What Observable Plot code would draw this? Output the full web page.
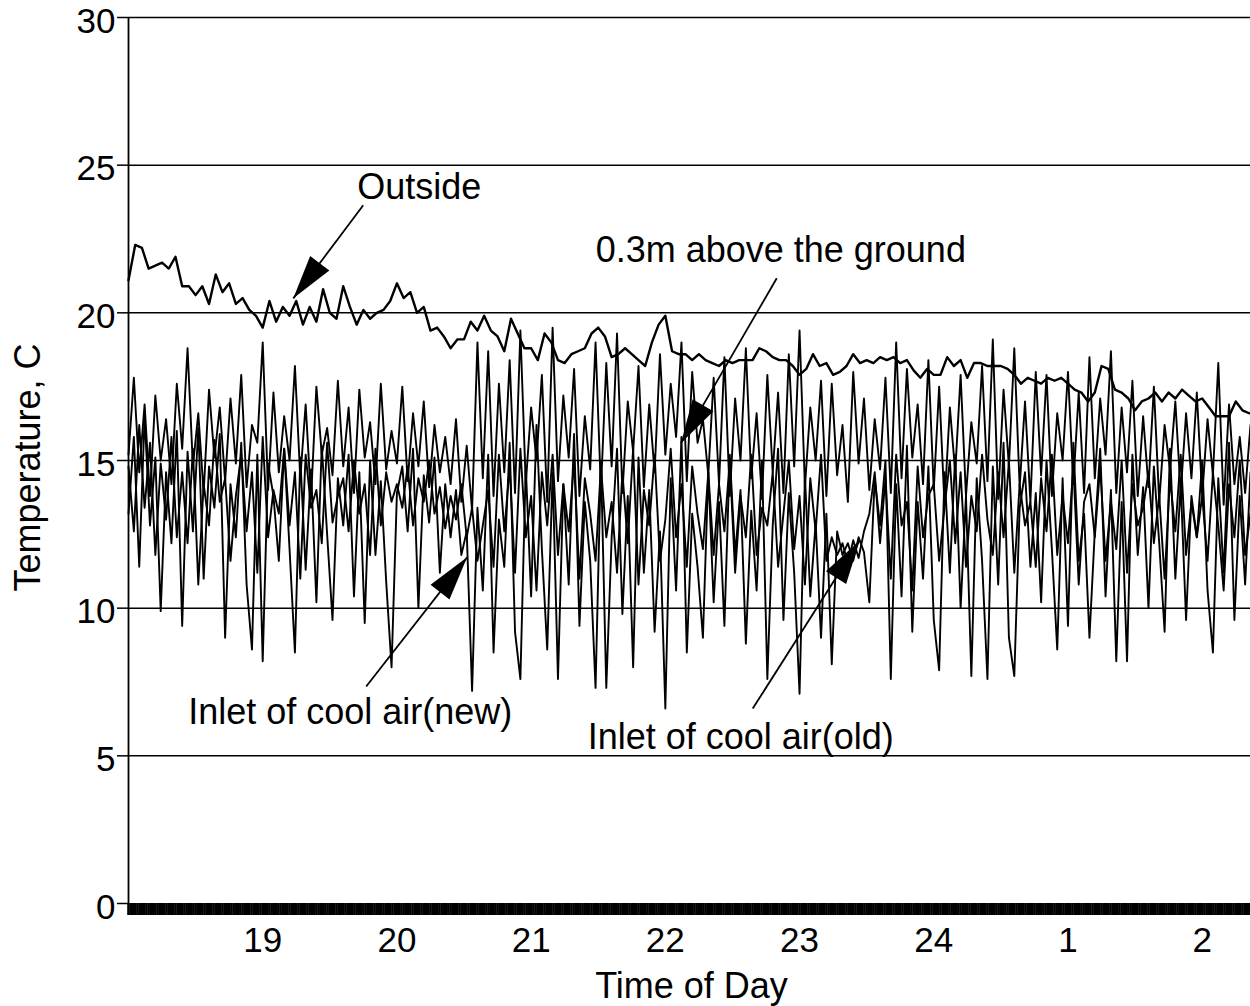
<!DOCTYPE html>
<html><head><meta charset="utf-8">
<script src="https://cdn.jsdelivr.net/npm/d3@7"></script>
<script src="https://cdn.jsdelivr.net/npm/@observablehq/plot@0.6"></script>
<style>body{margin:0;background:#fff}#chart svg{display:block}</style>
</head><body><div id="chart"></div>
<script>
// Outside temperature, sampled every 0.05 h from 18:00
const outsideTemp = [
21.1,22.3,22.2,21.5,21.6,21.7,21.5,21.9,20.9,20.9,
20.6,20.9,20.3,21.3,20.7,21.0,20.3,20.5,20.1,19.9,
19.5,20.4,19.7,20.2,19.9,20.4,19.6,20.2,19.7,20.8,
20.0,19.8,20.9,20.2,19.6,20.1,19.8,20.0,20.1,20.4,
21.0,20.5,20.7,20.0,20.2,19.4,19.5,19.2,18.8,19.1,
19.1,19.7,19.4,19.9,19.4,19.2,18.7,19.8,19.3,18.8,
18.8,18.4,19.3,19.0,18.4,18.3,18.6,18.7,18.8,19.3,
19.5,19.2,18.5,18.6,18.8,18.6,18.4,18.2,19.0,19.6,
19.9,18.7,18.6,18.6,18.4,18.6,18.4,18.3,18.2,18.4,
18.3,18.4,18.4,18.4,18.8,18.7,18.5,18.4,18.4,18.2,
17.9,18.1,18.6,18.2,18.3,17.9,18.0,18.2,18.6,18.3,
18.4,18.3,18.5,18.4,18.5,18.3,18.4,18.05,17.8,18.1,
17.9,17.9,18.5,18.2,18.4,17.8,18.3,18.3,18.2,18.2,
18.2,18.1,17.9,17.6,17.8,17.7,17.6,17.8,17.7,17.8,
17.6,17.4,17.3,17.0,17.3,18.2,18.1,17.4,17.3,17.1,
16.7,17.0,17.1,17.3,17.0,17.3,17.1,17.4,17.2,17.0,
17.1,16.8,16.5,16.5,16.5,17.0,16.7,16.6];

// 0.3 m above the ground, sampled every 0.04 h from 18:00
const groundTemp = [
15.2,17.8,14.6,16.9,13.8,17.2,15.0,16.4,14.2,17.6,
15.4,18.8,14.8,16.6,13.9,17.4,15.1,16.8,14.3,17.1,
14.9,17.9,14.1,16.2,15.6,19.0,14.0,17.3,14.6,16.5,
15.0,18.2,14.4,16.9,13.7,17.5,15.2,16.1,14.5,17.7,
14.8,16.8,13.9,17.4,15.1,16.3,14.2,17.6,14.7,16.0,
14.9,17.5,14.3,16.6,14.8,17.0,14.1,16.2,14.6,15.8,
14.2,16.4,13.6,15.5,13.3,19.0,14.4,18.7,13.8,17.6,
14.6,18.4,13.9,19.4,14.2,16.8,15.0,17.9,13.6,19.5,
14.3,17.2,15.1,18.1,13.8,16.5,14.7,19.0,14.0,18.3,
14.8,19.3,13.9,17.0,15.3,18.2,14.1,16.9,14.6,18.6,
15.2,17.6,15.8,19.0,14.3,18.0,15.6,16.4,14.5,17.8,
14.2,18.5,13.8,17.1,15.0,18.8,14.4,16.6,13.7,17.9,
14.6,17.3,13.9,18.6,14.8,19.4,14.1,16.8,15.0,17.7,
13.8,17.6,14.5,16.2,13.6,18.0,14.9,17.1,14.0,16.4,
14.7,17.8,13.9,19.0,14.4,18.1,15.1,16.9,14.2,18.4,
14.0,17.5,13.5,16.8,14.6,17.9,13.8,16.3,14.9,18.2,
14.3,19.1,13.7,17.4,14.8,18.8,14.1,17.0,13.6,18.0,
14.5,17.9,13.8,16.6,15.0,18.0,14.2,17.3,13.9,18.5,
14.4,17.1,15.2,18.7,13.9,16.8,14.6,17.7,13.8,16.5,
14.1,17.5,13.6,16.2,14.7,17.0,13.9,16.6,14.4,17.3,
13.8,16.4,14.5,18.3,13.5,16.9,14.2,15.8,13.9,16.2];

// Inlet of cool air (new), every 0.04 h
const inletNewTemp = [
13.2,15.8,11.4,16.5,12.8,15.1,9.9,14.6,12.2,16.0,
9.4,15.3,12.6,16.1,11.0,14.8,13.4,15.9,9.0,14.2,
12.4,15.6,10.8,8.6,15.2,8.2,14.9,13.8,11.6,15.4,
12.0,8.5,15.1,11.3,14.7,10.2,15.5,12.5,9.6,14.4,
12.8,15.2,10.4,14.6,9.5,15.0,11.8,14.3,10.9,8.0,
13.9,14.8,12.6,15.4,10.0,14.5,12.9,15.1,11.2,14.2,
12.4,14.0,11.8,12.6,7.2,13.4,10.6,15.2,8.5,13.0,
11.4,15.6,9.2,7.6,14.8,10.4,16.2,12.0,8.6,14.6,
7.6,14.2,10.8,15.9,9.4,13.6,11.6,7.3,15.0,7.3,
12.4,15.4,9.8,13.8,8.0,15.1,11.2,14.0,9.2,12.6,
6.6,14.4,10.6,15.8,8.5,13.2,11.4,9.0,14.6,10.2,
13.6,9.4,15.2,11.8,14.0,8.8,13.3,10.6,15.0,7.6,
12.8,15.4,9.6,13.9,11.2,7.1,14.5,10.4,12.9,9.0,
13.2,8.1,12.6,11.8,12.2,11.6,12.4,11.9,10.2,14.4,
12.8,15.0,7.6,14.2,10.4,15.5,9.2,13.6,11.0,14.8,
9.6,7.9,14.6,11.2,15.2,10.0,13.8,7.7,14.4,11.6,
7.6,14.8,10.8,15.6,9.0,7.7,13.4,14.6,11.4,13.9,
10.2,15.0,12.0,8.6,14.4,9.4,15.6,11.6,13.2,9.0,
12.6,15.4,10.4,14.0,8.2,13.6,8.2,15.2,11.8,14.1,
10.0,14.8,12.2,9.2,15.4,11.0,14.2,9.6,13.8,12.4,
15.0,10.6,8.5,14.4,11.2,15.6,9.6,13.8,10.8,14.6];

// Inlet of cool air (old), every 0.04 h
const inletOldTemp = [
14.8,12.6,16.2,13.4,15.6,11.8,14.9,13.0,15.8,12.4,
14.6,12.2,15.4,10.8,14.2,12.8,15.7,13.6,14.4,11.6,
13.8,15.2,12.6,14.6,11.2,15.8,12.4,14.0,13.2,15.4,
12.8,14.6,11.0,15.2,13.4,14.0,12.2,15.6,12.9,13.8,
14.4,12.6,15.0,13.2,14.2,11.8,15.4,12.8,14.6,13.6,
14.2,13.4,14.8,12.8,14.4,13.6,15.0,13.2,14.1,12.7,
13.8,13.0,14.2,12.4,13.4,11.6,12.8,14.0,11.4,15.2,
12.6,14.8,11.2,15.4,12.4,13.8,10.6,14.6,12.8,15.2,
11.8,14.2,12.6,15.0,11.0,14.4,13.2,11.6,14.8,12.4,
13.6,11.2,14.6,12.2,15.4,10.8,14.0,12.8,15.2,11.6,
13.0,15.4,12.4,14.2,11.4,14.8,13.2,12.0,14.6,11.8,
14.2,12.6,15.0,11.2,13.8,12.4,15.2,11.8,13.4,12.8,
14.6,11.4,13.2,15.0,12.0,13.8,10.8,14.4,12.6,15.2,
11.6,12.4,11.8,12.2,11.5,12.3,11.7,12.6,13.2,14.6,
12.2,14.4,11.0,15.2,12.8,13.6,10.6,14.8,12.4,13.8,
14.2,11.6,13.4,15.0,12.2,14.6,11.4,13.8,12.6,15.2,
13.0,11.8,14.6,12.4,15.0,11.2,14.2,12.8,13.6,11.4,
14.4,12.6,15.2,11.8,13.8,12.2,14.8,10.8,13.6,14.2,
12.4,14.8,11.6,13.6,12.0,15.0,11.2,14.2,12.8,13.4,
14.6,12.2,13.8,11.0,14.4,12.6,15.2,11.8,13.6,12.4,
13.8,11.6,14.6,12.8,10.6,14.2,12.4,15.0,11.8,13.2];

const yTicks = [0, 5, 10, 15, 20, 25, 30];
const hourTicks = [19, 20, 21, 22, 23, 24, 25, 26];
const hourLabels = ["19", "20", "21", "22", "23", "24", "1", "2"];

const annotationLabels = ["Outside", "0.3m above the ground", "Inlet of cool air(new)", "Inlet of cool air(old)"];
const labelX = [20.166, 22.860, 19.652, 22.562];
const labelY = [24.25, 22.11, 6.47, 5.62];
const arrowFromX = [19.749, 22.830, 19.771, 22.651];
const arrowFromY = [23.64, 21.17, 7.35, 6.60];
const arrowToX = [19.228, 22.116, 20.523, 23.448];
const arrowToY = [20.49, 15.58, 11.72, 12.29];

// layout
const W = 1250, H = 1006;
const mL = 128, mR = 0, mT = 17, mB = 103;
const xDomain = [18, 26.36], yDomain = [0, 30];
const FONT = "'Liberation Sans', Arial, Helvetica, sans-serif";

const toRows = (vals, start, step) => vals.map((v, i) => ({t: start + i * step, v}));
const outsideRows = toRows(outsideTemp, 18, 0.05);
const groundRows = toRows(groundTemp, 18, 0.04);
const newRows = toRows(inletNewTemp, 18, 0.04);
const oldRows = toRows(inletOldTemp, 18, 0.04);

const annotations = annotationLabels.map((label, i) => ({
  label, lx: labelX[i], ly: labelY[i],
  x1: arrowFromX[i], y1: arrowFromY[i], x2: arrowToX[i], y2: arrowToY[i]
}));

const kx = (W - mL - mR) / (xDomain[1] - xDomain[0]);
const ky = (H - mT - mB) / (yDomain[1] - yDomain[0]);

function headSymbol(a, L = 44, Wd = 24) {
  const dx = (a.x2 - a.x1) * kx, dy = -(a.y2 - a.y1) * ky;
  const len = Math.hypot(dx, dy), ux = dx / len, uy = dy / len;
  const px = -uy, py = ux;
  return {
    draw(ctx) {
      ctx.moveTo(0, 0);
      ctx.lineTo(-L * ux + Wd / 2 * px, -L * uy + Wd / 2 * py);
      ctx.lineTo(-L * ux - Wd / 2 * px, -L * uy - Wd / 2 * py);
      ctx.closePath();
    }
  };
}

const minuteTicks = d3.range(18, 26.36, 1 / 60);

const chart = Plot.plot({
  width: W, height: H,
  marginLeft: mL, marginRight: mR, marginTop: mT, marginBottom: mB,
  style: {fontFamily: FONT, background: "white", color: "black", overflow: "visible"},
  x: {domain: xDomain},
  y: {domain: yDomain},
  marks: [
    Plot.ruleY(yTicks.filter(d => d > 0), {stroke: "black", strokeWidth: 1.5}),
    Plot.ruleX([xDomain[0]], {y1: 0, y2: 30, stroke: "black", strokeWidth: 1.8}),
    Plot.axisY({ticks: yTicks, tickSize: 11, tickFormat: () => "", label: null, strokeWidth: 1.5}),
    Plot.axisY({ticks: yTicks, tickSize: 0, tickPadding: 13, fontSize: 35, label: null, dy: 4}),
    Plot.axisX({ticks: minuteTicks, tickSize: 12, tickFormat: () => "", label: null, strokeWidth: 2.6}),
    Plot.axisX({ticks: hourTicks, tickSize: 0, tickPadding: 24, fontSize: 35, label: null,
      tickFormat: d => hourLabels[hourTicks.indexOf(d)]}),
    Plot.line(oldRows, {x: "t", y: "v", stroke: "black", strokeWidth: 1.9}),
    Plot.line(newRows, {x: "t", y: "v", stroke: "black", strokeWidth: 1.9}),
    Plot.line(groundRows, {x: "t", y: "v", stroke: "black", strokeWidth: 1.9}),
    Plot.line(outsideRows, {x: "t", y: "v", stroke: "black", strokeWidth: 2.4}),
    Plot.link(annotations, {x1: "x1", y1: "y1", x2: "x2", y2: "y2", stroke: "black", strokeWidth: 1.8}),
    ...annotations.map(a => Plot.dot([a], {x: "x2", y: "y2", r: 5, symbol: headSymbol(a), fill: "black", stroke: "none"})),
    Plot.text(annotations, {x: "lx", y: "ly", text: "label", fontSize: 36, textAnchor: "middle", lineAnchor: "middle", fill: "black"}),
    Plot.text(["Temperature, C"], {frameAnchor: "left", dx: -100, dy: 7, rotate: -90, fontSize: 36, textAnchor: "middle", lineAnchor: "middle", fill: "black"}),
    Plot.text(["Time of Day"], {frameAnchor: "bottom", dx: 2, dy: 83, fontSize: 36, textAnchor: "middle", lineAnchor: "middle", fill: "black"})
  ]
});
document.getElementById("chart").append(chart);
</script>
</body></html>
